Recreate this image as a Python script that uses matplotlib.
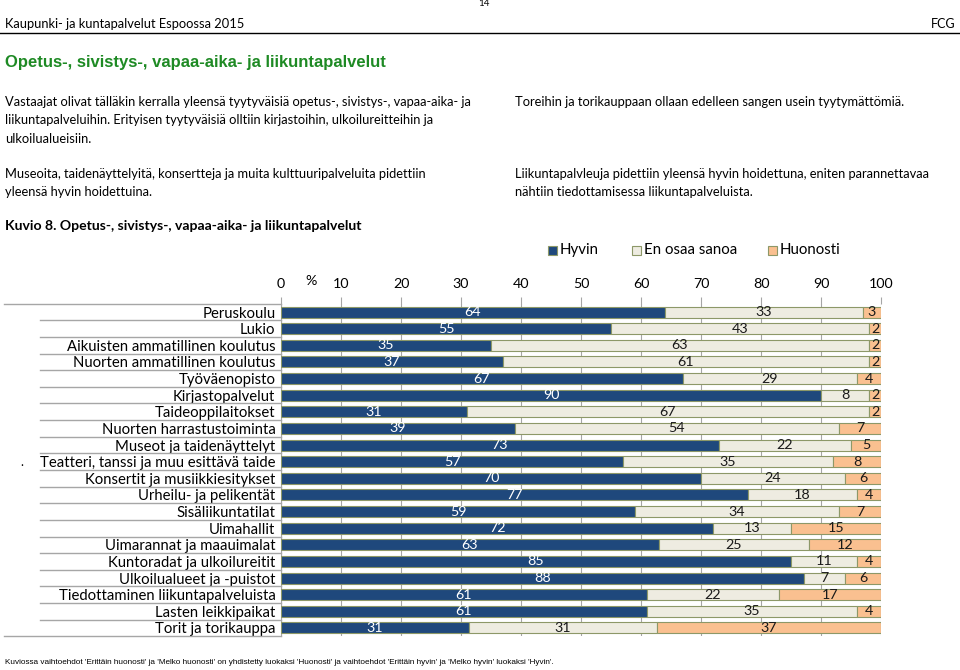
import matplotlib
matplotlib.use('Agg')
import matplotlib.pyplot as plt
import numpy as np
from matplotlib.patches import Rectangle
from matplotlib.lines import Line2D

# data (percent)
categories = ['Peruskoulu', 'Lukio', 'Aikuisten ammatillinen koulutus',
              'Nuorten ammatillinen koulutus', 'Työväenopisto', 'Kirjastopalvelut',
              'Taideoppilaitokset', 'Nuorten harrastustoiminta', 'Museot ja taidenäyttelyt',
              'Teatteri, tanssi ja muu esittävä taide', 'Konsertit ja musiikkiesitykset',
              'Urheilu- ja pelikentät', 'Sisäliikuntatilat', 'Uimahallit',
              'Uimarannat ja maauimalat', 'Kuntoradat ja ulkoilureitit',
              'Ulkoilualueet ja -puistot', 'Tiedottaminen liikuntapalveluista',
              'Lasten leikkipaikat', 'Torit ja torikauppa']
hyvin = [64, 55, 35, 37, 67, 90, 31, 39, 73, 57, 70, 77, 59, 72, 63, 85, 88, 61, 61, 31]
eos = [33, 43, 63, 61, 29, 8, 67, 54, 22, 35, 24, 18, 34, 13, 25, 11, 7, 22, 35, 31]
huonosti = [3, 2, 2, 2, 4, 2, 2, 7, 5, 8, 6, 4, 7, 15, 12, 4, 6, 17, 4, 37]
series_names = ['Hyvin', 'En osaa sanoa', 'Huonosti']
ticks = list(range(0, 101, 10))

colors = ['#1f487c', '#eeece1', '#fac090']
label_colors = ['white', '#1a1a1a', '#1a1a1a']
edge = '#8d9868'
grid = '#a6a6a6'

plt.rcParams['font.family'] = ['Lato', 'DejaVu Sans']

W, H = 960, 670
fig = plt.figure(figsize=(W / 100, H / 100), dpi=100)


def fx(px):
    return px / W


def fy(py):
    return 1 - py / H


def ftext(px, py, s, **kw):
    fig.text(fx(px), fy(py), s, **kw)


# page header
ftext(484, 4, '14', ha='center', va='center', fontsize=7)
ftext(5, 24, 'Kaupunki- ja kuntapalvelut Espoossa 2015', va='center', fontsize=9.3)
ftext(955, 24, 'FCG', ha='right', va='center', fontsize=9)
fig.add_artist(Line2D([0, 1], [fy(33), fy(33)], color='black', lw=1, transform=fig.transFigure))

ftext(5, 63, 'Opetus-, sivistys-, vapaa-aika- ja liikuntapalvelut', va='center',
      fontsize=12, fontweight='bold', color='#1e8a24', family=['Liberation Sans', 'DejaVu Sans'])

par = dict(va='center', fontsize=9.3)
ftext(5, 102, 'Vastaajat olivat tälläkin kerralla yleensä tyytyväisiä opetus-, sivistys-, vapaa-aika- ja', **par)
ftext(5, 120, 'liikuntapalveluihin. Erityisen tyytyväisiä olltiin kirjastoihin, ulkoilureitteihin ja', **par)
ftext(5, 139, 'ulkoilualueisiin.', **par)
ftext(5, 174, 'Museoita, taidenäyttelyitä, konsertteja ja muita kulttuuripalveluita pidettiin', **par)
ftext(5, 192, 'yleensä hyvin hoidettuina.', **par)
ftext(515, 102, 'Toreihin ja torikauppaan ollaan edelleen sangen usein tyytymättömiä.', **par)
ftext(515, 174, 'Liikuntapalvleuja pidettiin yleensä hyvin hoidettuna, eniten parannettavaa', **par)
ftext(515, 192, 'nähtiin tiedottamisessa liikuntapalveluista.', **par)

ftext(5, 226, 'Kuvio 8. Opetus-, sivistys-, vapaa-aika- ja liikuntapalvelut', va='center',
      fontsize=10.1, fontweight='bold')

# legend
leg_x = [548, 632, 768]
for x0, name, c in zip(leg_x, series_names, colors):
    fig.add_artist(Rectangle((fx(x0), fy(255)), 9 / W, 9 / H, transform=fig.transFigure,
                             facecolor=c, edgecolor=edge, lw=0.8))
    ftext(x0 + 12, 250, name, va='center', fontsize=10.8)

# chart
ax = fig.add_axes([fx(281), fy(636.3), (881 - 281) / W, (636.3 - 303.7) / H])
n = len(categories)
y = np.arange(n)
data = np.array([hyvin, eos, huonosti], dtype=float)
scaled = data * 100 / data.sum(axis=0)
left = np.zeros(n)
for k in range(3):
    ax.barh(y, scaled[k], left=left, height=0.66, color=colors[k],
            edgecolor=edge, linewidth=0.8, zorder=3)
    for i in range(n):
        ax.text(left[i] + scaled[k][i] / 2, y[i], str(int(data[k][i])), ha='center',
                va='center', fontsize=10.3, color=label_colors[k], zorder=4)
    left += scaled[k]

ax.set_xlim(0, 100)
ax.set_ylim(n - 0.5, -0.5)
ax.xaxis.tick_top()
ax.set_xticks(ticks)
ax.tick_params(axis='x', length=5, color=grid, labelsize=10.3, pad=5)
ax.set_yticks(y, categories)
ax.tick_params(axis='y', length=0, labelsize=10.7, pad=4)
ax.xaxis.grid(True, color=grid, lw=0.8)
ax.set_axisbelow(True)
for s in ['top', 'right', 'bottom']:
    ax.spines[s].set_visible(False)
ax.spines['left'].set_color(grid)

# row separators in the label area
ytr = ax.get_yaxis_transform()
for b in np.arange(n + 1) - 0.5:
    x_start = -0.462 if b in (-0.5, n - 0.5) else -0.402
    ax.add_line(Line2D([x_start, 0], [b, b], color=grid, lw=1, transform=ytr, clip_on=False))

ftext(311, 281, '%', ha='center', va='center', fontsize=10.3)
ftext(22, 462, '.', ha='center', va='center', fontsize=9)

ftext(5, 662, "Kuviossa vaihtoehdot 'Erittäin huonosti' ja 'Melko huonosti' on yhdistetty luokaksi "
      "'Huonosti' ja vaihtoehdot 'Erittäin hyvin' ja 'Melko hyvin' luokaksi 'Hyvin'.",
      va='center', fontsize=5.9, family=['Liberation Sans Narrow', 'Liberation Sans', 'DejaVu Sans'])

fig.savefig('out.png', dpi=100)
